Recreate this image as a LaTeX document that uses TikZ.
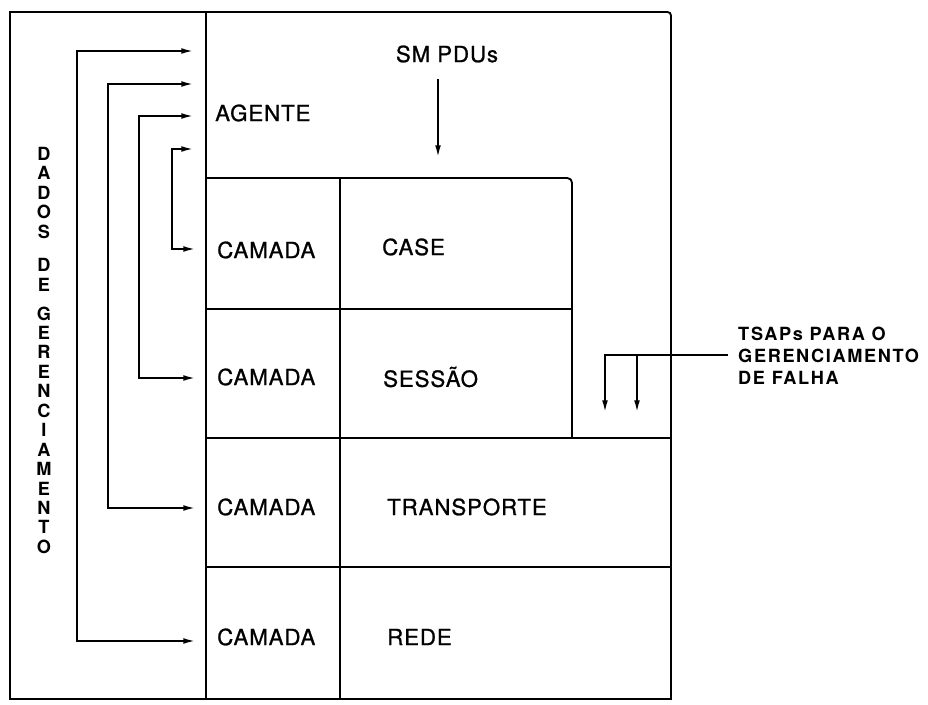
\documentclass[tikz,border=0pt]{standalone}
\usepackage{fontspec}
\setmainfont{TeX Gyre Heros}
\newfontfamily\lblfont[LetterSpace=4,FakeBold=1]{TeX Gyre Heros}
\newfontfamily\bldfont[LetterSpace=9]{TeX Gyre Heros}
\usetikzlibrary{arrows.meta}
\begin{document}
\begin{tikzpicture}[x=0.03cm,y=-0.03cm,
  ln/.style={line width=1.6pt},
  tip/.tip={Latex[length=10pt,width=5pt]},
  arr/.style={line width=1.4pt,-tip},
  darr/.style={line width=1.4pt,tip-tip},
  lbl/.style={font=\lblfont\fontsize{19}{22}\selectfont, inner sep=0pt, anchor=west},
  bld/.style={font=\bldfont\bfseries\fontsize{15.5}{18.8}\selectfont, inner sep=0pt, align=left, anchor=north west},
  vert/.style={font=\bldfont\bfseries\fontsize{15.5}{16.6}\selectfont, inner sep=0pt, align=center, anchor=north}]
\useasboundingbox (0,0) rectangle (928,705);
% frame and structure
\draw[ln] (671,40) -- (671,699) -- (10,699) -- (10,12) -- (650,12);
\draw[ln,rounded corners=3pt] (640,12) -- (671,12) -- (671,45);
\draw[ln] (206,12) -- (206,699);
\draw[ln,rounded corners=4pt] (206,178) -- (572,178) -- (572,438);
\draw[ln] (206,309) -- (572,309);
\draw[ln] (206,438) -- (671,438);
\draw[ln] (206,567) -- (671,567);
\draw[ln] (340,178) -- (340,699);
% labels
\node[lbl] (agente) at (215,113) {AGENTE};
\node[lbl] (cam1) at (217,250) {CAMADA};
\node[lbl] (cam2) at (217,377) {CAMADA};
\node[lbl] (cam3) at (217,507) {CAMADA};
\node[lbl] (cam4) at (217,637) {CAMADA};
\node[lbl] (case) at (382,247) {CASE};
\node[lbl] (sessao) at (383,377) {SESSÃO};
\node[lbl] (transp) at (387,507) {TRANSPORTE};
\node[lbl] (rede) at (387,637) {REDE};
\node[lbl,anchor=center] (sm) at (447,54) {SM PDUs};
\node[bld] (tsap) at (738,327) {TSAPs PARA O\\GERENCIAMENTO\\DE FALHA};
\node[vert] (dados) at (44,147) {D\\A\\D\\O\\S\\[12pt]D\\E\\[8pt]G\\E\\R\\E\\N\\C\\I\\A\\M\\E\\N\\T\\O};
% SM PDUs arrow
\coordinate (smtop) at (438,79);
\coordinate (smbot) at (438,157);
\draw[arr] (smtop) -- (smbot);
% TSAP arrows
\coordinate (tr) at (728,355);
\coordinate (t1) at (605,355);
\coordinate (t2) at (637,355);
\coordinate (t1e) at (605,412);
\coordinate (t2e) at (637,412);
\draw[arr] (tr) -- (t1) -- (t1e);
\draw[arr] (t2) -- (t2e);
% management arrows
\coordinate (a1s) at (193,51);  \coordinate (a1e) at (195,641);
\coordinate (a2s) at (193,84);  \coordinate (a2e) at (195,508);
\coordinate (a3s) at (193,116); \coordinate (a3e) at (195,378);
\coordinate (a4s) at (193,149); \coordinate (a4e) at (195,249);
\draw[darr] (a1s) -- ++(-116,0) |- (a1e);
\draw[darr] (a2s) -- ++(-85,0) |- (a2e);
\draw[darr] (a3s) -- ++(-54,0) |- (a3e);
\draw[darr] (a4s) -- ++(-21,0) |- (a4e);
\end{tikzpicture}
\end{document}
